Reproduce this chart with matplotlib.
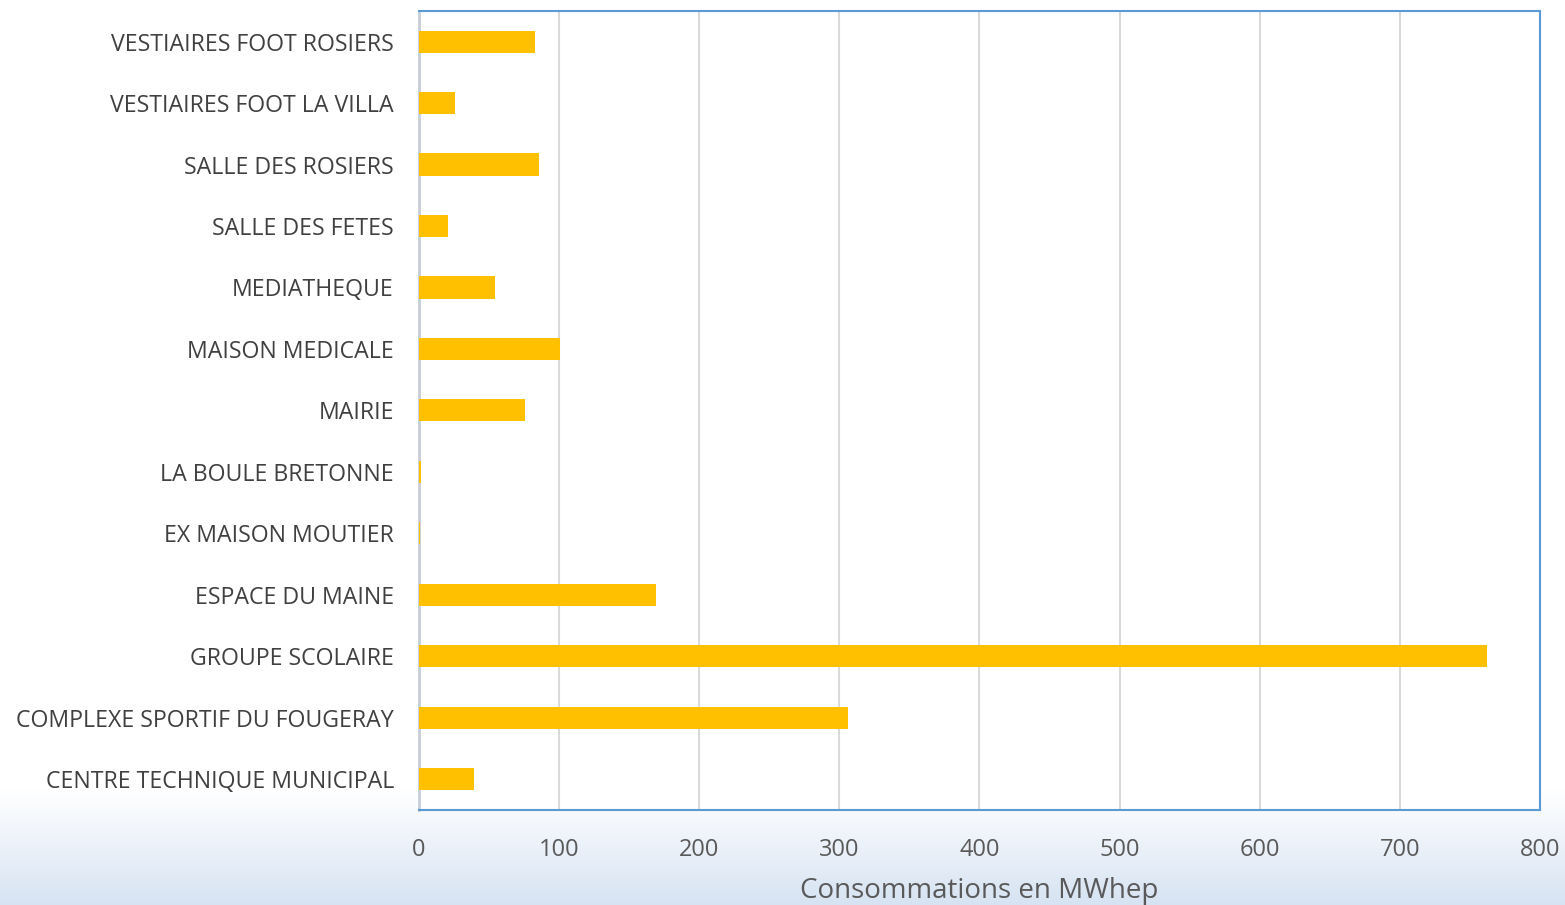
import numpy as np
import matplotlib.pyplot as plt

categories = ["CENTRE TECHNIQUE MUNICIPAL", "COMPLEXE SPORTIF DU FOUGERAY", "GROUPE SCOLAIRE",
              "ESPACE DU MAINE", "EX MAISON MOUTIER", "LA BOULE BRETONNE", "MAIRIE",
              "MAISON MEDICALE", "MEDIATHEQUE", "SALLE DES FETES", "SALLE DES ROSIERS",
              "VESTIAIRES FOOT LA VILLA", "VESTIAIRES FOOT ROSIERS"]
values = [39, 306, 762, 169, 0.7, 1.5, 76, 101, 54, 21, 86, 26, 83]
xticks = [0, 100, 200, 300, 400, 500, 600, 700, 800]

plt.rcParams['font.family'] = ['Open Sans', 'DejaVu Sans']
fig = plt.figure(figsize=(15.65, 9.05), dpi=100)

# slide background: white fading to light blue at the bottom
bg = fig.add_axes([0, 0, 1, 1], zorder=-10)
grad = np.ones((905, 1, 3))
t = np.clip((np.arange(905) - 790) / 115.0, 0, 1)
top = np.array([1.0, 1.0, 1.0])
bot = np.array([0.84, 0.89, 0.95])
grad[:, 0, :] = top + (bot - top) * t[:, None]
bg.imshow(grad, aspect='auto', extent=[0, 1, 0, 1], origin='upper')
bg.axis('off')

ax = fig.add_axes([0.2677, 0.105, 0.7163, 0.883])
ax.set_facecolor('white')
y = np.arange(len(categories))
ax.barh(y, values, height=0.36, color='#FFC000', zorder=3)
ax.set_xlim(0, 800)
ax.set_ylim(-0.5, len(categories) - 0.5)
ax.set_yticks(y)
ax.set_yticklabels(categories, fontsize=16.7, color='#404040')
ax.set_xticks(xticks)
ax.set_xticklabels([str(v) for v in xticks], fontsize=17, color='#595959')
ax.tick_params(axis='both', length=0)
ax.tick_params(axis='x', pad=20)
ax.tick_params(axis='y', pad=18)
ax.grid(axis='x', color='#d9d9d9', linewidth=1.5, zorder=0)
for s in ['top', 'right', 'bottom']:
    ax.spines[s].set_color('#5B9BD5')
    ax.spines[s].set_linewidth(1.5)
ax.spines['left'].set_color('#c5cdd8')
ax.spines['left'].set_linewidth(2)
ax.set_xlabel("Consommations en MWhep", fontsize=20, color='#595959', labelpad=11)

fig.savefig('out.png', dpi=100)
